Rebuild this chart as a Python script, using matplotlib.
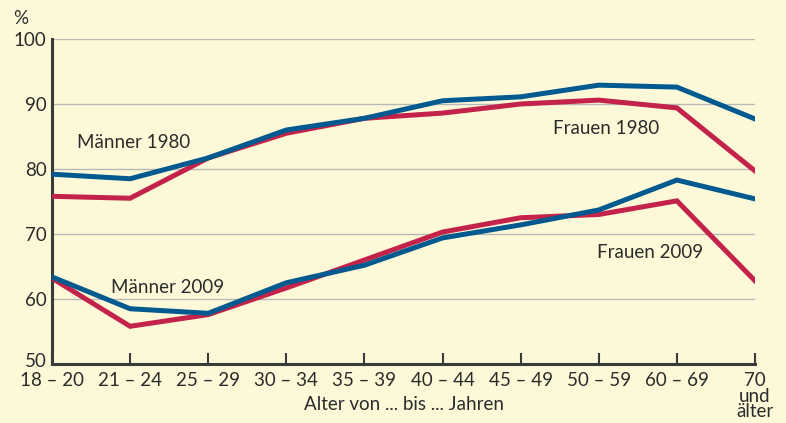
import matplotlib.pyplot as plt
import matplotlib.transforms as mtransforms

plt.rcParams['font.family'] = ['Lato', 'DejaVu Sans']

altersgruppen = ["18 – 20", "21 – 24", "25 – 29", "30 – 34", "35 – 39",
                 "40 – 44", "45 – 49", "50 – 59", "60 – 69", "70\nund\nälter"]
maenner_1980 = [79.2, 78.5, 81.7, 86.0, 87.8, 90.5, 91.1, 92.9, 92.6, 87.7]
frauen_1980 = [75.8, 75.5, 81.7, 85.5, 87.8, 88.6, 90.0, 90.6, 89.4, 79.7]
maenner_2009 = [63.4, 58.5, 57.8, 62.5, 65.2, 69.4, 71.4, 73.7, 78.3, 75.4]
frauen_2009 = [63.2, 55.8, 57.6, 61.7, 66.0, 70.3, 72.5, 73.0, 75.1, 62.8]

bg = "#fdf9d8"
blau = "#005a8f"
rot = "#c3234a"
text = "#2b2b2b"
fs = 13.5

fig = plt.figure(figsize=(7.86, 4.23), dpi=100, facecolor=bg)
ax = fig.add_axes([52 / 786, 59 / 423, 703 / 786, 325 / 423])
ax.set_facecolor(bg)

x = list(range(len(altersgruppen)))
ax.plot(x, frauen_1980, color=rot, lw=3.6, solid_joinstyle="miter", zorder=3)
ax.plot(x, maenner_1980, color=blau, lw=3.6, solid_joinstyle="miter", zorder=4)
ax.plot(x, frauen_2009, color=rot, lw=3.6, solid_joinstyle="miter", zorder=3)
ax.plot(x, maenner_2009, color=blau, lw=3.6, solid_joinstyle="miter", zorder=4)

ax.set_xlim(0, len(x) - 1)
ax.set_ylim(50, 100)
ax.set_yticks([50, 60, 70, 80, 90, 100])
ax.grid(axis="y", color="#b8b8b8", lw=1)
ax.set_axisbelow(True)

for s in ["top", "right"]:
    ax.spines[s].set_visible(False)
for s in ["left", "bottom"]:
    ax.spines[s].set_color("#3a3a3a")
    ax.spines[s].set_linewidth(2.2)

ax.set_xticks(x)
ax.set_xticklabels(altersgruppen, fontsize=fs, color=text, linespacing=0.88, va="top")
ax.tick_params(axis="x", direction="in", length=8, width=1.5, color="#3a3a3a", pad=6)
ax.tick_params(axis="y", length=0, labelsize=fs, labelcolor=text, pad=4)
for lbl in ax.get_yticklabels():
    lbl.set_va("center_baseline")
# "50" sitzt im Original etwas hoeher, damit es nicht mit "18 – 20" kollidiert
lbl50 = ax.get_yticklabels()[0]
lbl50.set_transform(lbl50.get_transform() +
                    mtransforms.ScaledTranslation(0, 3 / 72, fig.dpi_scale_trans))
ax.set_xlabel("Alter von ... bis ... Jahren", fontsize=fs, color=text, labelpad=-17)

ax.text(0.32, 84.0, "Männer 1980", fontsize=fs, color=text, va="center")
ax.text(6.42, 86.3, "Frauen 1980", fontsize=fs, color=text, va="center")
ax.text(0.75, 61.8, "Männer 2009", fontsize=fs, color=text, va="center")
ax.text(6.98, 67.2, "Frauen 2009", fontsize=fs, color=text, va="center")
fig.text(13 / 786, 1 - 18 / 423, "%", fontsize=fs, color=text, va="center")

fig.savefig("out.png", dpi=100, facecolor=bg)
